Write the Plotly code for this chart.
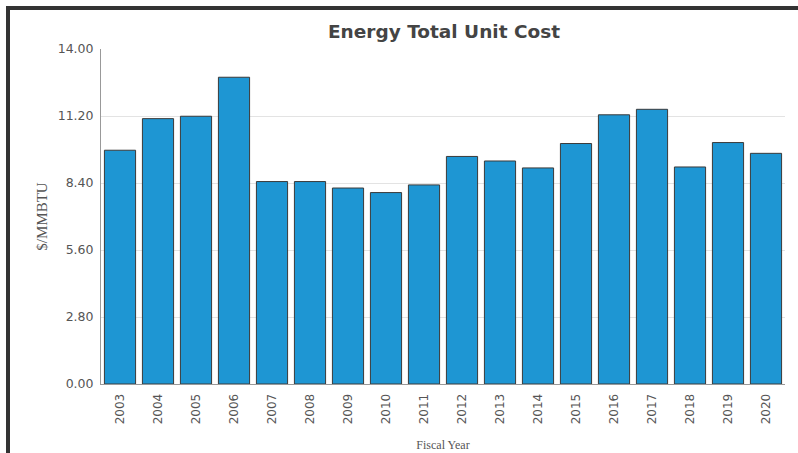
import plotly.graph_objects as go

years = ["2003", "2004", "2005", "2006", "2007", "2008", "2009", "2010", "2011",
         "2012", "2013", "2014", "2015", "2016", "2017", "2018", "2019", "2020"]
unit_cost = [9.77, 11.09, 11.19, 12.82, 8.46, 8.46, 8.19, 8.00, 8.32,
             9.51, 9.32, 9.03, 10.05, 11.25, 11.48, 9.07, 10.09, 9.64]
y_ticks = [0, 2.8, 5.6, 8.4, 11.2, 14.0]
y_tick_labels = ["0.00", "2.80", "5.60", "8.40", "11.20", "14.00"]

W, H = 798, 453
L, R, T, B = 101, 13, 49, 69
pw, ph = W - L - R, H - T - B

def px(x):
    return (x - L) / pw

def py(y):
    return (H - B - y) / ph

fig = go.Figure(go.Bar(
    x=years, y=unit_cost,
    marker=dict(color="#1e96d3", line=dict(color="#3a3a3a", width=1)),
))

fig.update_layout(
    width=W, height=H, autosize=False,
    margin=dict(l=L, r=R, t=T, b=B, pad=0),
    paper_bgcolor="white", plot_bgcolor="white",
    bargap=0.18,
    showlegend=False,
    title=dict(text="<b>Energy Total Unit Cost</b>", x=444 / W, xanchor="center",
               y=1 - 32 / H, yanchor="middle",
               font=dict(family="DejaVu Sans", size=18.5, color="#444444")),
    font=dict(family="DejaVu Sans", color="#555555"),
    xaxis=dict(
        automargin=False,
        tickangle=-90, tickfont=dict(size=12, color="#555555"),
        ticks="outside", ticklen=4, tickcolor="rgba(0,0,0,0)",
        showline=True, linecolor="#999999", linewidth=1,
        showgrid=False,
        title=dict(text="Fiscal Year", standoff=17,
                   font=dict(family="Liberation Serif", size=12, color="#555555")),
    ),
    yaxis=dict(
        automargin=False,
        range=[0, 14], tickvals=y_ticks, ticktext=y_tick_labels,
        tickfont=dict(size=12.5, color="#555555"),
        ticks="outside", ticklen=4, tickcolor="rgba(0,0,0,0)",
        showline=True, linecolor="#999999", linewidth=1,
        gridcolor="#e3e3e3", gridwidth=1, zeroline=False,
        title=dict(text="$/MMBTU", standoff=6,
                   font=dict(family="Liberation Serif", size=15, color="#555555")),
    ),
    shapes=[
        dict(type="line", xref="paper", yref="paper",
             x0=px(6), x1=px(798), y0=py(8), y1=py(8),
             line=dict(color="#333333", width=4)),
        dict(type="line", xref="paper", yref="paper",
             x0=px(8), x1=px(8), y0=py(6), y1=py(453),
             line=dict(color="#333333", width=4)),
    ],
)

fig.write_html("out.html",
               config={"displayModeBar": False, "responsive": False},
               post_script="document.body.style.margin='0';document.body.style.overflow='hidden';")
